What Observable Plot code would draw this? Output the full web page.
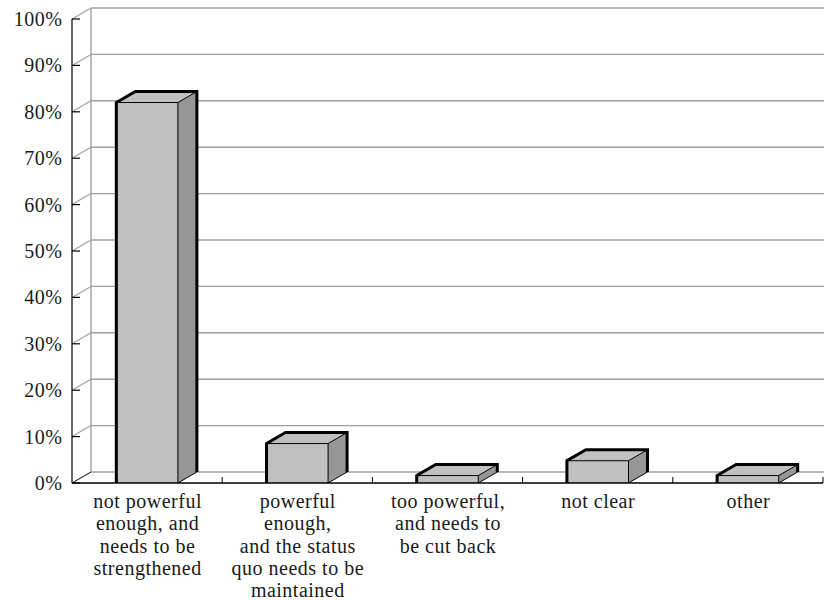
<!DOCTYPE html>
<html>
<head>
<meta charset="utf-8">
<script src="https://cdn.jsdelivr.net/npm/d3@7"></script>
<script src="https://cdn.jsdelivr.net/npm/@observablehq/plot@0.6"></script>
<style>
  html, body { margin: 0; padding: 0; background: #fff; }
  #chart svg { display: block; }
</style>
</head>
<body>
<div id="chart"></div>
<script>
// ---- data ----
const categories = [
  "not powerful\nenough, and\nneeds to be\nstrengthened",
  "powerful\nenough,\nand the status\nquo needs to be\nmaintained",
  "too powerful,\nand needs to\nbe cut back",
  "not clear",
  "other"
];
const values = [82, 8.5, 1.6, 4.8, 1.6];   // percent
const yTicks = [0, 10, 20, 30, 40, 50, 60, 70, 80, 90, 100];

// ---- style constants ----
const DEPTH_X = 19, DEPTH_Y = -11;
const HALF = 0.205;           // half of the bar width, as a share of a category
const FRONT = "#c0c0c0", TOP = "#c0c0c0", SIDE = "#969696", GRID = "#a0a0a0";
const FONT = "'Liberation Serif', 'Times New Roman', serif";

const rows = categories.map((c, i) => ({label: c, value: values[i], pos: i + 0.5}));

function wallsMark(index, scales) {
  const {x, y} = scales;
  const g = d3.create("svg:g");
  const x0 = x(0), x1 = x(categories.length), y0 = y(0);
  for (const t of yTicks) {
    g.append("line")
      .attr("x1", x0 + DEPTH_X).attr("x2", x1 + DEPTH_X + 40)
      .attr("y1", y(t) + DEPTH_Y).attr("y2", y(t) + DEPTH_Y)
      .attr("stroke", GRID).attr("stroke-width", 1.4);
    g.append("line")
      .attr("x1", x0).attr("y1", y(t))
      .attr("x2", x0 + DEPTH_X).attr("y2", y(t) + DEPTH_Y)
      .attr("stroke", GRID).attr("stroke-width", 1.2);
  }
  g.append("line")
    .attr("x1", x0 + DEPTH_X).attr("x2", x0 + DEPTH_X)
    .attr("y1", y(100) + DEPTH_Y).attr("y2", y0 + DEPTH_Y)
    .attr("stroke", GRID).attr("stroke-width", 1.4);
  return g.node();
}

function barsMark(index, scales) {
  const {x, y} = scales;
  const g = d3.create("svg:g");
  const unit = x(1) - x(0);
  rows.forEach(r => {
    const c = x(r.pos), hw = unit * HALF;
    const xl = c - hw, xr = c + hw, yt = y(r.value), yb = y(0);
    const dx = DEPTH_X, dy = DEPTH_Y;
    g.append("path")
      .attr("d", `M${xl},${yt}L${xr},${yt}L${xr + dx},${yt + dy}L${xl + dx},${yt + dy}Z`)
      .attr("fill", TOP);
    g.append("path")
      .attr("d", `M${xr},${yb}L${xr},${yt}L${xr + dx},${yt + dy}L${xr + dx},${yb + dy}Z`)
      .attr("fill", SIDE);
    g.append("path")
      .attr("d", `M${xl},${yt}L${xr},${yt}L${xr},${yb}M${xr},${yt}L${xr + dx},${yt + dy}M${xr},${yb}L${xr + dx},${yb + dy}`)
      .attr("fill", "none").attr("stroke", "#000").attr("stroke-width", 1);
    g.append("path")
      .attr("d", `M${xl},${yb}L${xl},${yt}L${xl + dx},${yt + dy}L${xr + dx},${yt + dy}L${xr + dx},${yb + dy}`)
      .attr("fill", "none").attr("stroke", "#000").attr("stroke-width", 3)
      .attr("stroke-linejoin", "miter");
  });
  return g.node();
}

function axesMark(index, scales) {
  const {x, y} = scales;
  const g = d3.create("svg:g");
  const x0 = x(0), x1 = x(categories.length), y0 = y(0);
  g.append("line").attr("x1", x0).attr("y1", y0).attr("x2", x0 + DEPTH_X).attr("y2", y0 + DEPTH_Y)
    .attr("stroke", "#333").attr("stroke-width", 1);
  g.append("line").attr("x1", x0).attr("x2", x0).attr("y1", y(100)).attr("y2", y0)
    .attr("stroke", "#000").attr("stroke-width", 1.2);
  for (const t of yTicks) {
    g.append("line").attr("x1", x0).attr("x2", x0 + 8).attr("y1", y(t)).attr("y2", y(t))
      .attr("stroke", "#000").attr("stroke-width", 1.2);
  }
  g.append("line").attr("x1", x0).attr("x2", x1).attr("y1", y0).attr("y2", y0)
    .attr("stroke", "#000").attr("stroke-width", 1.5);
  for (let i = 1; i <= categories.length; i++) {
    g.append("line").attr("x1", x(i)).attr("x2", x(i)).attr("y1", y0).attr("y2", y0 - 6)
      .attr("stroke", "#000").attr("stroke-width", 1);
  }
  return g.node();
}

const chart = Plot.plot({
  width: 824,
  height: 600,
  marginLeft: 72,
  marginRight: 1,
  marginTop: 19,
  marginBottom: 117,
  style: {fontFamily: FONT, fontSize: "20px", letterSpacing: "0.5px", color: "#1a1a1a", background: "#fff"},
  x: {domain: [0, categories.length], axis: null},
  y: {domain: [0, 100], ticks: yTicks, tickFormat: d => d + "%", tickSize: 0, tickPadding: 10, label: null},
  marks: [
    wallsMark,
    Plot.rect(rows, {
      x1: d => d.pos - HALF, x2: d => d.pos + HALF,
      y1: 0, y2: "value", fill: FRONT
    }),
    barsMark,
    axesMark,
    Plot.text(rows, {
      x: "pos", y: 0, text: "label",
      lineAnchor: "top", dy: 9, lineHeight: 1.11,
      fontSize: 20, fill: "#1a1a1a", textAnchor: "middle"
    })
  ]
});
document.getElementById("chart").appendChild(chart);
</script>
</body>
</html>
